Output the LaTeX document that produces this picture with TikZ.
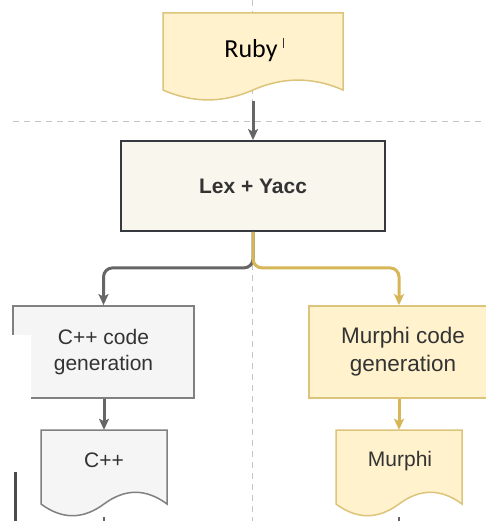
\documentclass[tikz,border=0pt]{standalone}
\usepackage{fontspec}
\setmainfont{Liberation Sans}
\newfontfamily\calibrifont{Carlito}
\usetikzlibrary{arrows.meta}

\definecolor{yelfill}{HTML}{FFF2CC}
\definecolor{yelline}{HTML}{D6B656}
\definecolor{yeldoc}{HTML}{DCC47A}
\definecolor{lexfill}{HTML}{F9F7ED}
\definecolor{lexline}{HTML}{36393D}
\definecolor{grayfill}{HTML}{F5F5F5}
\definecolor{grayline}{HTML}{808080}
\definecolor{conngray}{HTML}{666666}
\definecolor{txtdark}{HTML}{333333}
\definecolor{guidecol}{HTML}{C4C4C4}

\tikzset{
  guide/.style={draw=guidecol, line width=1pt, dash pattern=on 6pt off 5pt},
  procbox/.style={rectangle, line width=1.8pt, inner sep=0pt, align=center, text=txtdark},
  docslot/.style={rectangle, draw=none, inner sep=0pt},
  doctext/.style={text=txtdark, font=\fontsize{21}{25}\selectfont},
  conn/.style={line width=3pt, -{Stealth[length=11pt,width=10pt,inset=2.5pt]}},
  stub/.style={line width=2.2pt, draw=conngray},
}

\begin{document}
\begin{tikzpicture}[x=1pt,y=-1pt]
\useasboundingbox (0,0) rectangle (486,521);
\clip (0,0) rectangle (486,521);
\fill[white] (0,0) rectangle (486,521);

% swimlane guides
\draw[guide] (252,0) -- (252,521);
\draw[guide] (13,122) -- (482,122);

% document outlines (flat top, wavy bottom)
\filldraw[fill=yelfill, draw=yeldoc, line width=1.5pt]
  (163,13) -- (343,13) -- (343,90)
  .. controls (313,76.8) and (283,76.8) .. (253,90)
  .. controls (223,103.2) and (193,103.2) .. (163,90) -- cycle;
\filldraw[fill=grayfill, draw=grayline, line width=1.5pt]
  (41,430) -- (167,430) -- (167,504)
  .. controls (146,488.4) and (125,488.4) .. (104,504)
  .. controls (83,519.6) and (62,519.6) .. (41,504) -- cycle;
\filldraw[fill=yelfill, draw=yeldoc, line width=1.5pt]
  (336,430) -- (462,430) -- (462,504)
  .. controls (441,488.4) and (420,488.4) .. (399,504)
  .. controls (378,519.6) and (357,519.6) .. (336,504) -- cycle;

% anchor slots for the documents
\node[docslot, minimum width=180pt, minimum height=88pt] (rubydoc) at (253,57) {};
\node[docslot, minimum width=126pt, minimum height=87pt] (cppdoc) at (104,473.5) {};
\node[docslot, minimum width=126pt, minimum height=87pt] (murdoc) at (399,473.5) {};

% process boxes
\node[procbox, fill=lexfill, draw=lexline, minimum width=264pt, minimum height=90pt,
      font=\bfseries\fontsize{21}{25}\selectfont] (lex) at (253,186) {Lex + Yacc};
\node[procbox, fill=grayfill, draw=grayline, minimum width=181pt, minimum height=92pt,
      font=\fontsize{21}{26}\selectfont] (cppbox) at (103.5,352) {C++ code\\generation};
\node[procbox, fill=yelfill, draw=yeldoc, minimum width=188pt, minimum height=92pt,
      font=\fontsize{22.5}{28}\selectfont] (murbox) at (403,352) {Murphi code\\generation};

% blank patch over the lower left of the C++ box, and the bar beside the C++ file
\fill[white] (10,335) rectangle (30.5,402);
\draw[line width=2.5pt, draw=black!70] (15.5,472) -- (15.5,521);

% connectors
\draw[conn, draw=conngray] (rubydoc.south) -- (lex.north);
\draw[conn, draw=conngray, rounded corners=9pt]
  (lex.south) -- ++(0,36) -| (cppbox.north);
\draw[conn, draw=yelline, rounded corners=9pt]
  (lex.south) -- ++(0,36) -| (murdoc.north |- murbox.north);
\draw[conn, draw=conngray] (cppdoc.north |- cppbox.south) -- (cppdoc.north);
\draw[conn, draw=yelline] (murdoc.north |- murbox.south) -- (murdoc.north);

% outgoing stubs below the files
\coordinate (cppend) at (104,530);
\coordinate (murend) at (399,530);
\draw[stub] (cppdoc.south) -- (cppend);
\draw[stub] (murdoc.south) -- (murend);

% labels of the documents
\node[font=\calibrifont\fontsize{26}{30}\selectfont, text=black] (rubytxt) at (251,51) {Ruby};
\draw[line width=0.7pt, draw=black!80] (283,38) -- (283,48);
\node[doctext] (cpptxt) at (104,460) {C++};
\node[doctext] (murtxt) at (400,461) {Murphi};
\end{tikzpicture}
\end{document}
